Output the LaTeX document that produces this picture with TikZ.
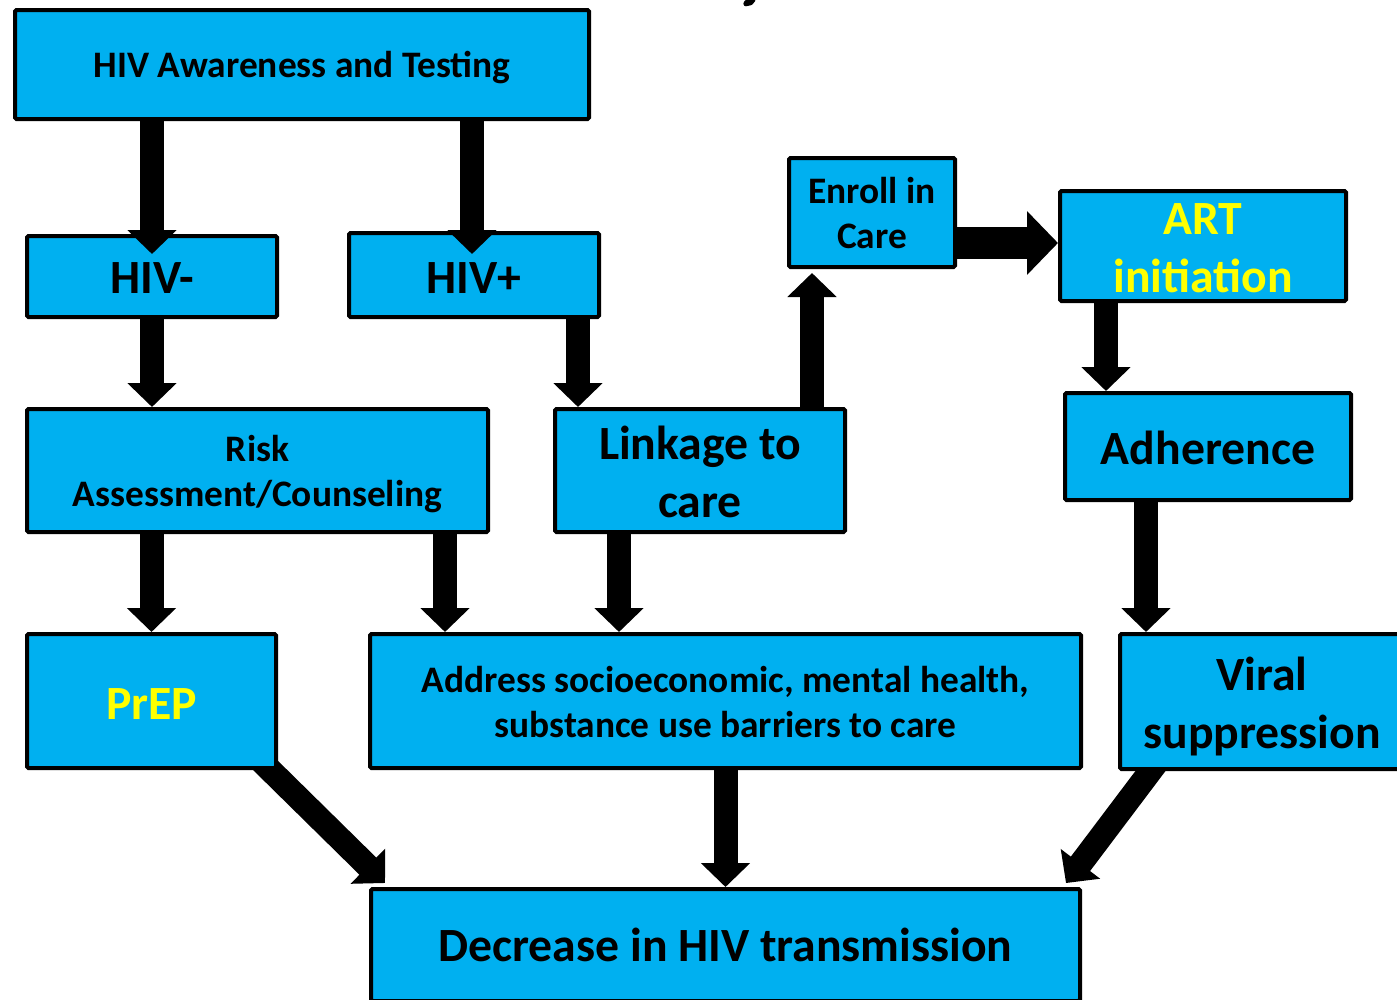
\documentclass[tikz,border=0pt]{standalone}
\usepackage{fontspec}
\setmainfont{Carlito}
\usetikzlibrary{arrows.meta}
\definecolor{boxblue}{HTML}{00B0F0}
\definecolor{txtyellow}{HTML}{FFFF00}
\pgfdeclarelayer{bg}
\pgfsetlayers{bg,main}
\begin{document}
\begin{tikzpicture}[x=1pt,y=-1pt,
  box/.style={draw=black,line width=4pt,fill=boxblue,rounded corners=1.5pt,inner sep=0pt},
  sm/.style={inner sep=0pt,align=center,font=\bfseries\fontsize{37.4}{45}\selectfont},
  lg/.style={inner sep=0pt,align=center,font=\bfseries\fontsize{47.7}{58}\selectfont},
  barrow/.style={black,line width=24pt,-{Triangle[width=48pt,length=24pt]}},
  bigarrow/.style={black,line width=32pt,-{Triangle[width=62pt,length=31pt]}}]
\useasboundingbox (0,0) rectangle (1397,999);
\clip (0,0) rectangle (1397,999);
% fragment of the cut-off title
\fill[rounded corners=1pt] (745,0) -- (756,0) -- (752,5) -- (745,6.5) -- (743,4) -- cycle;
% boxes
\node[box,minimum width=574pt,minimum height=109pt] (aw) at (302,64.5) {};
\node[box,minimum width=250pt,minimum height=81pt] (hivm) at (152,276.5) {};
\node[box,minimum width=250pt,minimum height=84pt] (hivp) at (474,275) {};
\node[box,minimum width=166pt,minimum height=109pt] (enr) at (872,212.5) {};
\node[box,minimum width=286pt,minimum height=110pt] (art) at (1203,246) {};
\node[box,minimum width=461pt,minimum height=123pt] (risk) at (257.5,470.5) {};
\node[box,minimum width=290pt,minimum height=123pt] (link) at (700,470.5) {};
\node[box,minimum width=286pt,minimum height=107pt] (adh) at (1208,446.5) {};
\node[box,minimum width=249pt,minimum height=134pt] (prep) at (151.5,701) {};
\node[box,minimum width=711pt,minimum height=134pt] (addr) at (725.5,701) {};
\node[box,minimum width=284pt,minimum height=135pt] (viral) at (1262,701.5) {};
\node[box,minimum width=709pt,minimum height=112pt] (dec) at (725.5,945) {};
% texts
\node[sm] (awT) at ([shift={(0,3)}]aw.center) {HIV Awareness and Testing};
\node[lg] (hivmT) at ([shift={(0,2)}]hivm.center) {HIV-};
\node[lg] (hivpT) at ([shift={(0,3)}]hivp.center) {HIV+};
\node[sm] (enrT) at ([shift={(0,1)}]enr.center) {Enroll in\\Care};
\node[lg,text=txtyellow] (artT) at ([shift={(0,2)}]art.center) {ART\\initiation};
\node[sm] (riskT) at ([shift={(0,4)}]risk.center) {Risk\\Assessment/Counseling};
\node[lg] (linkT) at ([shift={(0,1)}]link.center) {Linkage to\\care};
\node[lg] (adhT) at ([shift={(0,1)}]adh.center) {Adherence};
\node[lg,text=txtyellow] (prepT) at ([shift={(0,3)}]prep.center) {PrEP};
\node[sm] (addrT) at ([shift={(0,1.5)}]addr.center) {Address socioeconomic, mental health,\\substance use barriers to care};
\node[lg] (viralT) at ([shift={(0,5)}]viral.center) {Viral\\suppression};
\node[lg] (decT) at (dec.center) {Decrease in HIV transmission};
% vertical and horizontal arrows
\coordinate (t1) at ([shift={(0,20)}]hivm.north);
\draw[barrow] (t1 |- aw.south) -- (t1);
\coordinate (t2) at ([shift={(-2,23)}]hivp.north);
\draw[barrow] (t2 |- aw.south) -- (t2);
\draw[barrow] (hivm.south) -- (hivm.south |- risk.north);
\coordinate (s4) at ([shift={(104,0)}]hivp.south);
\draw[barrow] (s4) -- (s4 |- link.north);
\coordinate (s5) at ([shift={(112,0)}]link.north);
\coordinate (e5) at (s5 |- enr.south);
\draw[barrow] (s5) -- ([shift={(0,4)}]e5);
\coordinate (s6) at ([shift={(0,30.5)}]enr.east);
\draw[bigarrow] (s6) -- (s6 -| art.west);
\coordinate (s7) at ([shift={(-97,0)}]art.south);
\draw[barrow] (s7) -- (s7 |- adh.north);
\draw[barrow] (prep.north |- risk.south) -- (prep.north);
\coordinate (s9) at ([shift={(187.5,0)}]risk.south);
\draw[barrow] (s9) -- (s9 |- addr.north);
\coordinate (s10) at ([shift={(-81,0)}]link.south);
\draw[barrow] (s10) -- (s10 |- addr.north);
\coordinate (s11) at ([shift={(-62,0)}]adh.south);
\draw[barrow] (s11) -- (s11 |- viral.north);
\draw[barrow] (addr.south) -- (addr.south |- dec.north);
% diagonal arrows (under the boxes)
\begin{pgfonlayer}{bg}
\draw[barrow] ([shift={(-18,-10)}]prep.south east) -- ([shift={(16,-4)}]dec.north west);
\draw[barrow] ([shift={(40,-10)}]viral.south west) -- ([shift={(-16,-4)}]dec.north east);
\end{pgfonlayer}
\end{tikzpicture}
\end{document}
